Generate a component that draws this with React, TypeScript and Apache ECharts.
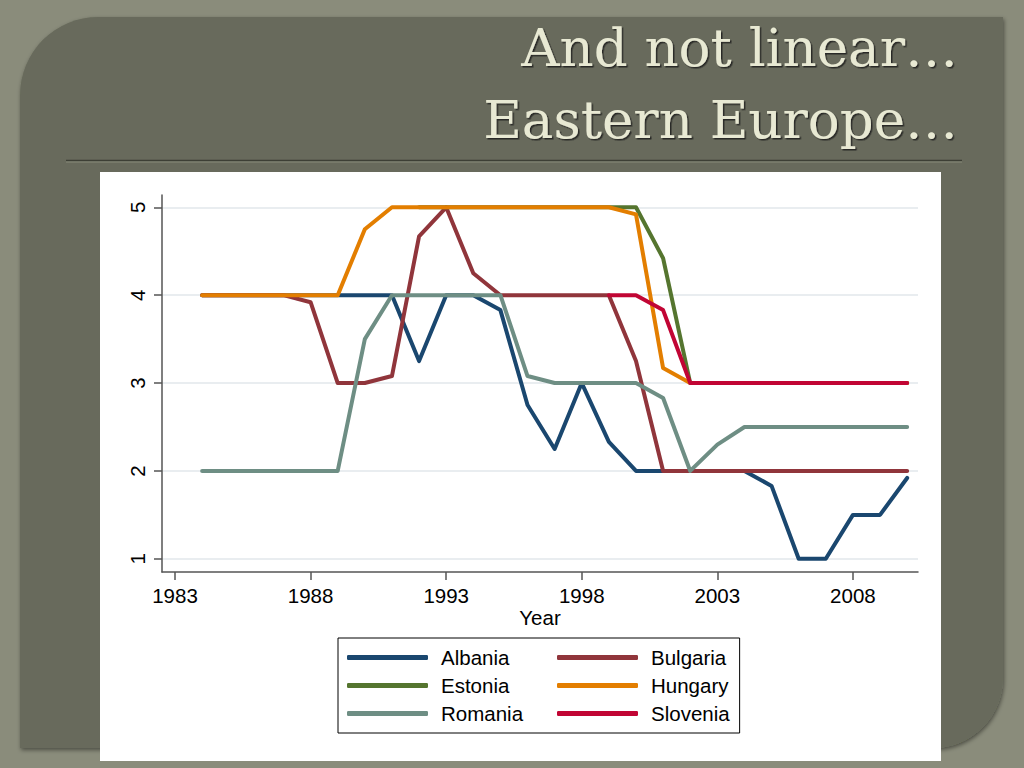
import React, { useEffect, useRef } from "react";
import * as echarts from "echarts";

const years = [1984, 1985, 1986, 1987, 1988, 1989, 1990, 1991, 1992, 1993, 1994, 1995, 1996, 1997, 1998, 1999, 2000, 2001, 2002, 2003, 2004, 2005, 2006, 2007, 2008, 2009, 2010];
const albania = [4, 4, 4, 4, 4, 4, 4, 4, 3.25, 4, 4, 3.83, 2.75, 2.25, 3, 2.33, 2, 2, 2, 2, 2, 1.83, 1, 1, 1.5, 1.5, 1.92];
const bulgaria = [4, 4, 4, 4, 3.92, 3, 3, 3.08, 4.67, 5, 4.25, 4, 4, 4, 4, 4, 3.25, 2, 2, 2, 2, 2, 2, 2, 2, 2, 2];
const estonia = [null, null, null, null, null, null, null, null, 5, 5, 5, 5, 5, 5, 5, 5, 5, 4.42, 3, 3, 3, 3, 3, 3, 3, 3, 3];
const hungary = [4, 4, 4, 4, 4, 4, 4.75, 5, 5, 5, 5, 5, 5, 5, 5, 5, 4.92, 3.17, 3, 3, 3, 3, 3, 3, 3, 3, 3];
const romania = [2, 2, 2, 2, 2, 2, 3.5, 4, 4, 4, 4, 4, 3.08, 3, 3, 3, 3, 2.83, 2, 2.3, 2.5, 2.5, 2.5, 2.5, 2.5, 2.5, 2.5];
const slovenia = [null, null, null, null, null, null, null, null, null, null, null, null, null, null, null, 4, 4, 3.83, 3, 3, 3, 3, 3, 3, 3, 3, 3];

const countryNames = ["Albania", "Bulgaria", "Estonia", "Hungary", "Romania", "Slovenia"];
const countryColors = ["#1a476f", "#90353b", "#55752f", "#e37e00", "#6e8e84", "#c10534"];
const xTickLabels = [1983, 1988, 1993, 1998, 2003, 2008];
const yTickLabels = [1, 2, 3, 4, 5];
const titleLines = ["And not linear…", "Eastern Europe…"];
const xAxisTitle = "Year";

const SANS = "'Liberation Sans', Arial, Helvetica, sans-serif";
const SERIF = "'DejaVu Serif', 'Liberation Serif', serif";

export default function App() {
  const ref = useRef<HTMLDivElement>(null);

  useEffect(() => {
    if (!ref.current) return;
    const chart = echarts.init(ref.current, null, { renderer: "svg" });
    const valueLists = [albania, bulgaria, estonia, hungary, romania, slovenia];

    const series = countryNames.map((name, i) => ({
      name,
      type: "line",
      data: years.map((y, j) => [y, valueLists[i][j]]),
      showSymbol: false,
      symbol: "none",
      connectNulls: false,
      color: countryColors[i],
      lineStyle: { width: 4, color: countryColors[i], cap: "round", join: "round" },
      z: 3 + i,
    }));

    const leftCol = new Set(["Albania", "Estonia", "Romania"]);
    const legendText = { fontSize: 20.5, fontFamily: SANS, color: "#000", lineHeight: 20, padding: [0, 0, 0, 8] };

    const option = {
      animation: false,
      grid: { left: 162, top: 195, width: 756, height: 377, containLabel: false },
      legend: {
        left: 338,
        top: 638,
        width: 395,
        orient: "horizontal",
        padding: [9, 10, 9, 9],
        borderColor: "#000",
        borderWidth: 1,
        backgroundColor: "#fff",
        itemWidth: 81,
        itemHeight: 5,
        itemGap: 7,
        icon: "roundRect",
        textStyle: legendText,
        data: countryNames.map((n) =>
          leftCol.has(n) ? { name: n, textStyle: { ...legendText, width: 109 } } : { name: n }
        ),
      },
      xAxis: {
        type: "value",
        min: 1982.52,
        max: 2010.4,
        name: xAxisTitle,
        nameLocation: "middle",
        nameGap: 29,
        nameTextStyle: { fontSize: 20.5, fontFamily: SANS, color: "#000" },
        axisLine: { show: true, lineStyle: { color: "#555", width: 1.5 } },
        axisTick: { show: true, length: 8, customValues: xTickLabels, lineStyle: { color: "#555", width: 1.5 } },
        axisLabel: {
          customValues: xTickLabels,
          formatter: (v: number) => String(v),
          fontSize: 20.5,
          fontFamily: SANS,
          color: "#000",
          margin: 13,
        },
        splitLine: { show: false },
      },
      yAxis: {
        type: "value",
        min: 0.85,
        max: 5.14,
        axisLine: { show: true, lineStyle: { color: "#555", width: 1.5 } },
        axisTick: { show: true, length: 8, customValues: yTickLabels, lineStyle: { color: "#555", width: 1.5 } },
        axisLabel: {
          customValues: yTickLabels,
          formatter: (v: number) => String(v),
          rotate: 90,
          fontSize: 20.5,
          fontFamily: SANS,
          color: "#000",
          margin: 14,
        },
        splitLine: { show: true, lineStyle: { color: "#e9edf0", width: 2 } },
      },
      graphic: [
        { type: "rect", z: -20, shape: { x: 0, y: 0, width: 1024, height: 768 }, style: { fill: "#8a8c7b" } },
        {
          type: "rect",
          z: -19,
          shape: { x: 20, y: 17, width: 983, height: 731, r: [78, 0, 70, 0] },
          style: { fill: "#686b5c", shadowBlur: 4, shadowColor: "rgba(0,0,0,0.45)", shadowOffsetX: 1, shadowOffsetY: 2 },
        },
        { type: "line", z: -18, shape: { x1: 66, y1: 160.5, x2: 962, y2: 160.5 }, style: { stroke: "#3d3f35", lineWidth: 1.5 } },
        { type: "line", z: -18, shape: { x1: 66, y1: 162, x2: 962, y2: 162 }, style: { stroke: "#878a79", lineWidth: 1 } },
        { type: "rect", z: -17, shape: { x: 100, y: 172, width: 841, height: 589 }, style: { fill: "#ffffff" } },
        {
          type: "text",
          z: 10,
          style: {
            x: 958, y: 47, text: titleLines[0], align: "right", verticalAlign: "middle",
            font: `53px ${SERIF}`, fill: "#e8e9d3",
            textShadowColor: "rgba(30,30,20,0.8)", textShadowBlur: 1, textShadowOffsetX: 1.5, textShadowOffsetY: 1.5,
          },
        },
        {
          type: "text",
          z: 10,
          style: {
            x: 958, y: 119, text: titleLines[1], align: "right", verticalAlign: "middle",
            font: `53px ${SERIF}`, fill: "#e8e9d3",
            textShadowColor: "rgba(30,30,20,0.8)", textShadowBlur: 1, textShadowOffsetX: 1.5, textShadowOffsetY: 1.5,
          },
        },
      ],
      series,
    };

    chart.setOption(option as any);
    return () => chart.dispose();
  }, []);

  return <div ref={ref} style={{ position: "absolute", left: 0, top: 0, width: 1024, height: 768 }} />;
}
